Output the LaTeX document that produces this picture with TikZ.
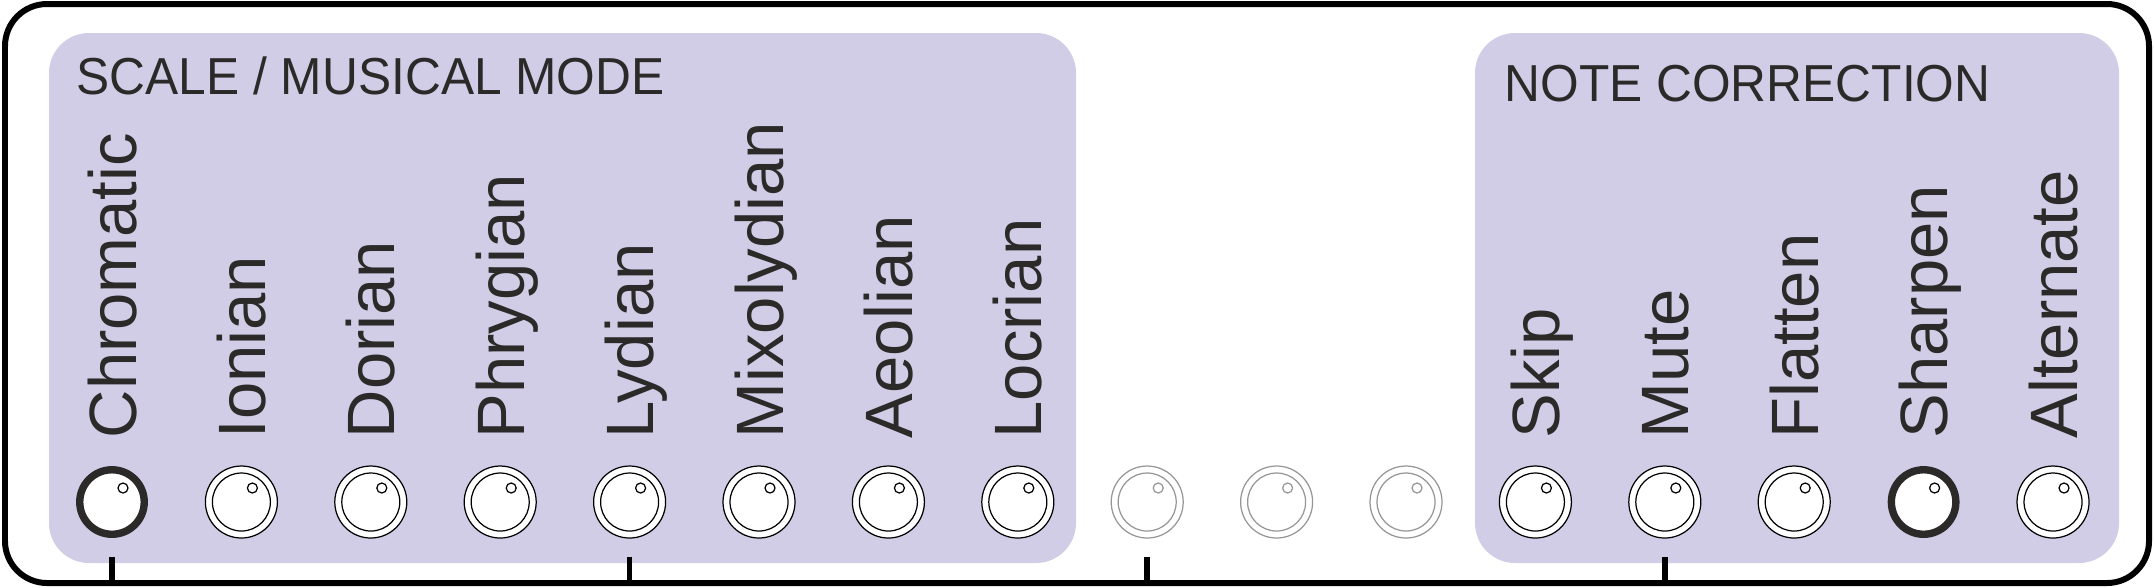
\documentclass[tikz,border=0pt]{standalone}
\usepackage{fontspec}
\setmainfont{Liberation Sans}
\newfontfamily\headfont{Liberation Sans}[FakeStretch=0.955]
\usepackage{xcolor}
\definecolor{panel}{RGB}{209,205,230}
\definecolor{ink}{RGB}{43,42,41}
\definecolor{offgray}{RGB}{150,150,150}

\tikzset{
  knob/.style={circle, inner sep=0pt, minimum size=7.2mm, draw=#1, line width=0.35pt, fill=white,
    path picture={
      \draw[#1, line width=0.35pt] (path picture bounding box.center) circle[radius=2.9mm];
      \draw[#1, line width=0.35pt] ([shift={(1.1mm,1.4mm)}]path picture bounding box.center) circle[radius=0.5mm];}},
  knob/.default=black,
  knobon/.style={circle, inner sep=0pt, minimum size=6.45mm, draw=ink, line width=2.1pt, fill=white,
    path picture={
      \draw[black, line width=0.35pt] ([shift={(1.1mm,1.4mm)}]path picture bounding box.center) circle[radius=0.5mm];}},
  modelabel/.style={rotate=90, anchor=base west, inner sep=0pt, text=ink,
    font=\fontsize{19.06pt}{19.06pt}\selectfont},
  header/.style={anchor=base west, inner sep=0pt, text=ink,
    font=\headfont\fontsize{14.8pt}{14.8pt}\selectfont},
  tick/.style={line width=1.55pt, black},
}

\begin{document}
\begin{tikzpicture}[x=0.1mm, y=-0.1mm]
    \useasboundingbox (0,0) rectangle (2155,587);
    % frame and the two groups
    \draw[line width=1.7pt, rounded corners=4.2mm] (5,4) rectangle (2149,583);
    \fill[panel, rounded corners=4mm] (49,33) rectangle (1076,563);
    \fill[panel, rounded corners=4mm] (1475,33) rectangle (2119,563);
    \node[header] (scalehead) at (76,94) {SCALE / MUSICAL MODE};
    \node[header] (notehead) at (1504,101) {NOTE CORRECTION};

    % knobs
    \node[knobon] (chromatic) at (112,502) {};
    \node[knob] (ionian) at (241.4,502) {};
    \node[knob] (dorian) at (370.8,502) {};
    \node[knob] (phrygian) at (500.2,502) {};
    \node[knob] (lydian) at (629.6,502) {};
    \node[knob] (mixolydian) at (759,502) {};
    \node[knob] (aeolian) at (888.4,502) {};
    \node[knob] (locrian) at (1017.8,502) {};
    \node[knob=offgray] (spare1) at (1147.2,502) {};
    \node[knob=offgray] (spare2) at (1276.6,502) {};
    \node[knob=offgray] (spare3) at (1406,502) {};
    \node[knob] (skip) at (1535.4,502) {};
    \node[knob] (mute) at (1664.8,502) {};
    \node[knob] (flatten) at (1794.2,502) {};
    \node[knobon] (sharpen) at (1923.6,502) {};
    \node[knob] (alternate) at (2053,502) {};

    % labels
    \node[modelabel] (chromaticlabel) at (136,439) {Chromatic};
    \node[modelabel] (ionianlabel) at (265.4,439) {Ionian};
    \node[modelabel] (dorianlabel) at (394.8,439) {Dorian};
    \node[modelabel] (phrygianlabel) at (524.2,439) {Phrygian};
    \node[modelabel] (lydianlabel) at (653.6,439) {Lydian};
    \node[modelabel] (mixolydianlabel) at (783,439) {Mixolydian};
    \node[modelabel] (aeolianlabel) at (912.4,439) {Aeolian};
    \node[modelabel] (locrianlabel) at (1041.8,439) {Locrian};
    \node[modelabel] (skiplabel) at (1559.4,439) {Skip};
    \node[modelabel] (mutelabel) at (1688.8,439) {Mute};
    \node[modelabel] (flattenlabel) at (1818.2,439) {Flatten};
    \node[modelabel] (sharpenlabel) at (1947.6,439) {Sharpen};
    \node[modelabel] (alternatelabel) at (2077,439) {Alternate};

    % ticks on the bottom edge
    \coordinate (ticktop) at (0,557);
    \coordinate (tickbot) at (0,583);
    \draw[tick] (chromatic |- ticktop) -- (chromatic |- tickbot);
    \draw[tick] (lydian |- ticktop) -- (lydian |- tickbot);
    \draw[tick] (spare1 |- ticktop) -- (spare1 |- tickbot);
    \draw[tick] (mute |- ticktop) -- (mute |- tickbot);
\end{tikzpicture}
\end{document}
